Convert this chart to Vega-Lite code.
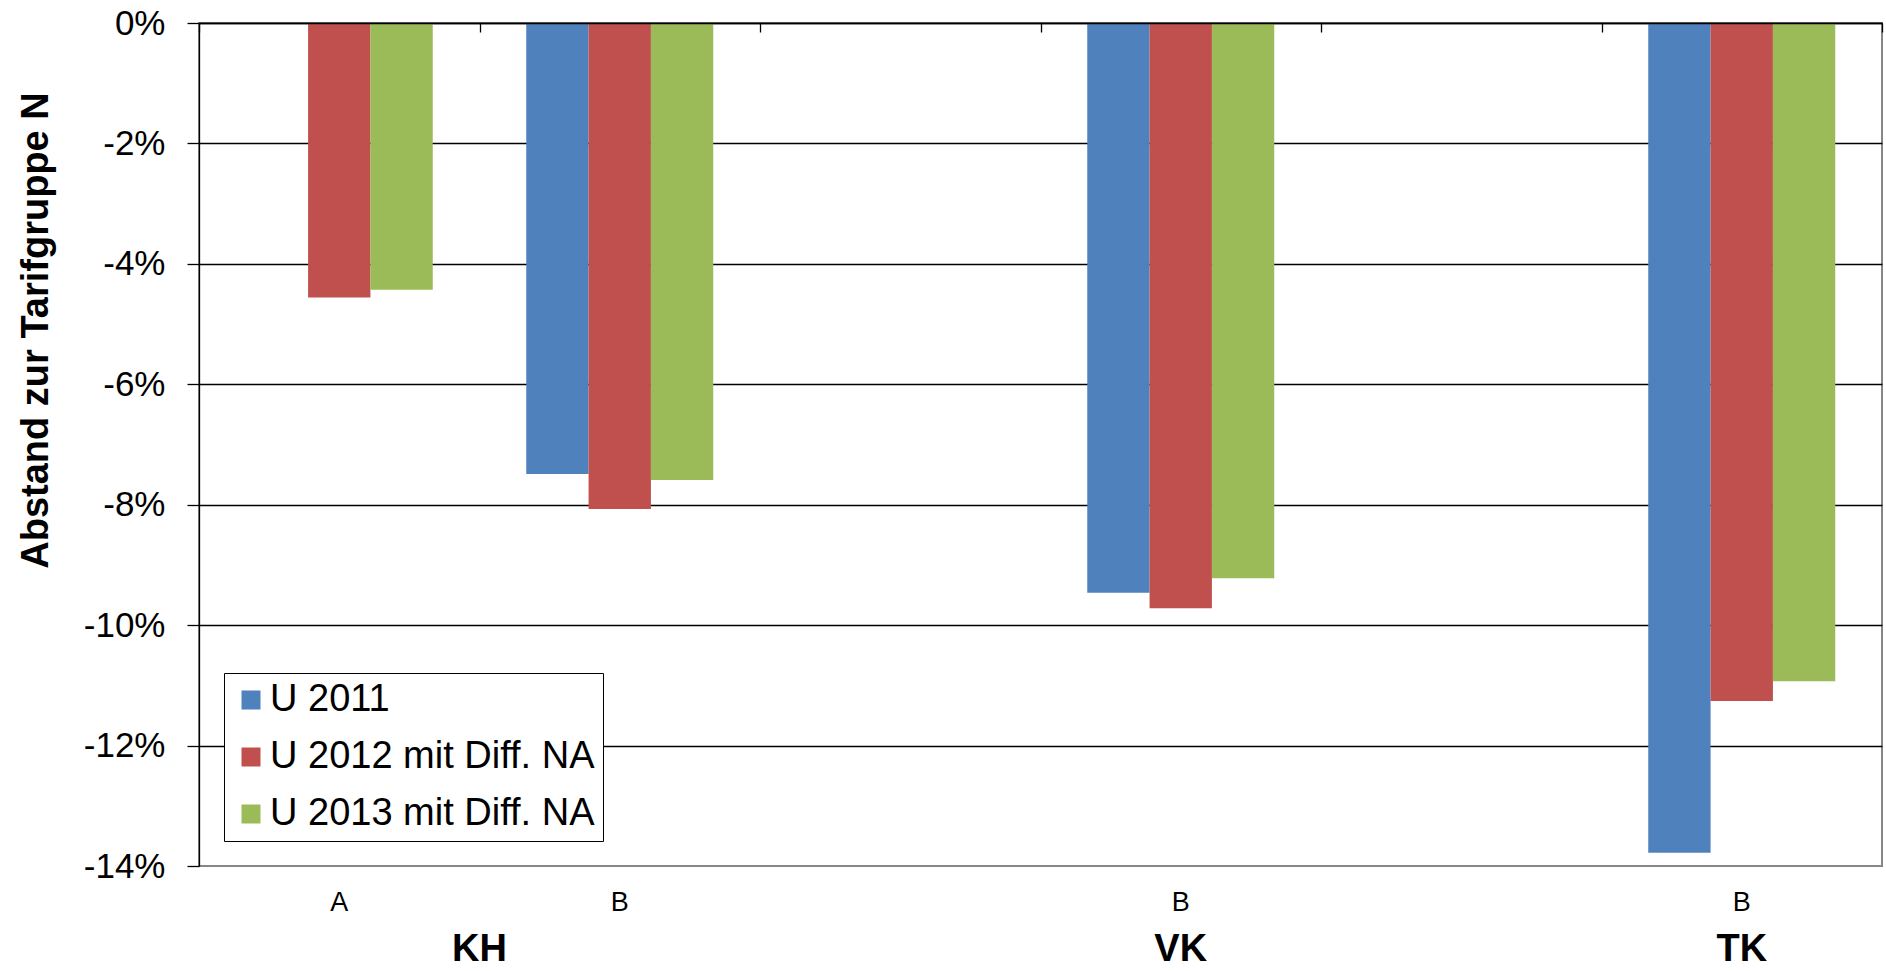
{
  "$schema": "https://vega.github.io/schema/vega-lite/v6.json",
  "autosize": "none",
  "width": 1683,
  "height": 843,
  "padding": {"left": 199, "top": 23, "right": 4, "bottom": 105},
  "background": "white",
  "config": {
    "font": "Liberation Sans",
    "view": {"stroke": "#868686", "strokeWidth": 2},
    "axis": {"labelColor": "black", "titleColor": "black"}
  },
  "data": {
    "values": [
      {"group": "KH", "slot": "KH A", "series": "U 2012 mit Diff. NA", "value": -4.56},
      {"group": "KH", "slot": "KH A", "series": "U 2013 mit Diff. NA", "value": -4.43},
      {"group": "KH", "slot": "KH B", "series": "U 2011", "value": -7.49},
      {"group": "KH", "slot": "KH B", "series": "U 2012 mit Diff. NA", "value": -8.07},
      {"group": "KH", "slot": "KH B", "series": "U 2013 mit Diff. NA", "value": -7.59},
      {"group": "VK", "slot": "VK B", "series": "U 2011", "value": -9.46},
      {"group": "VK", "slot": "VK B", "series": "U 2012 mit Diff. NA", "value": -9.72},
      {"group": "VK", "slot": "VK B", "series": "U 2013 mit Diff. NA", "value": -9.22},
      {"group": "TK", "slot": "TK B", "series": "U 2011", "value": -13.78},
      {"group": "TK", "slot": "TK B", "series": "U 2012 mit Diff. NA", "value": -11.26},
      {"group": "TK", "slot": "TK B", "series": "U 2013 mit Diff. NA", "value": -10.93}
    ]
  },
  "resolve": {"scale": {"x": "shared"}, "axis": {"x": "independent"}},
  "layer": [
    {
      "mark": {"type": "bar"},
      "encoding": {
        "x": {
          "field": "slot",
          "type": "nominal",
          "sort": null,
          "scale": {"domain": ["KH A", "KH B", "sep1", "VK B", "sep2", "TK B"], "paddingInner": 0, "paddingOuter": 0},
          "axis": {
            "orient": "bottom",
            "title": null,
            "domain": false,
            "ticks": false,
            "tickSize": 0,
            "grid": false,
            "labelAngle": 0,
            "labelFontSize": 27,
            "labelPadding": 23,
            "labelExpr": "indexof(datum.value, ' ') > 0 ? split(datum.value, ' ')[1] : ''"
          }
        },
        "xOffset": {
          "field": "series",
          "type": "nominal",
          "scale": {"domain": ["U 2011", "U 2012 mit Diff. NA", "U 2013 mit Diff. NA"], "paddingInner": 0, "paddingOuter": 0.75}
        },
        "y": {
          "field": "value",
          "type": "quantitative",
          "scale": {"domain": [-14, 0], "nice": false},
          "axis": {
            "title": "Abstand zur Tarifgruppe N",
            "titleFontSize": 38,
            "titleFontWeight": "bold",
            "titleX": -163,
            "titleY": 307,
            "titleAlign": "center",
            "titleBaseline": "middle",
            "titleAngle": 270,
            "values": [-14, -12, -10, -8, -6, -4, -2, 0],
            "labelExpr": "datum.value + '%'",
            "labelFontSize": 35,
            "labelPadding": 22,
            "domainColor": "black",
            "domainWidth": 1.3,
            "tickColor": "black",
            "tickSize": 12,
            "tickWidth": 1.3,
            "gridColor": "black",
            "gridWidth": 1.3,
            "gridOpacity": {"condition": {"test": "datum.value === -14", "value": 0}, "value": 1}
          }
        },
        "color": {
          "field": "series",
          "type": "nominal",
          "scale": {
            "domain": ["U 2011", "U 2012 mit Diff. NA", "U 2013 mit Diff. NA"],
            "range": ["#4F81BD", "#C0504D", "#9BBB59"]
          },
          "legend": {
            "title": null,
            "orient": "bottom-left",
            "offset": 25,
            "strokeColor": "black",
            "fillColor": "white",
            "padding": 8,
            "symbolOffset": 0,
            "symbolType": "square",
            "symbolSize": 361,
            "symbolStrokeWidth": 0,
            "labelFontSize": 38,
            "labelColor": "black",
            "labelOffset": 0,
            "labelLimit": 0,
            "rowPadding": 19
          }
        }
      }
    },
    {
      "mark": {"type": "rule", "opacity": 0},
      "encoding": {
        "x": {
          "field": "slot",
          "type": "nominal",
          "sort": null,
          "scale": {"domain": ["KH A", "KH B", "sep1", "VK B", "sep2", "TK B"], "paddingInner": 0, "paddingOuter": 0},
          "axis": {
            "orient": "bottom",
            "title": null,
            "domain": false,
            "ticks": false,
            "tickSize": 0,
            "grid": false,
            "labelAngle": 0,
            "values": ["KH B", "VK B", "TK B"],
            "labelExpr": "split(datum.value, ' ')[0]",
            "labelFontSize": 38,
            "labelFontWeight": "bold",
            "labelPadding": 64,
            "labelOffset": {"condition": {"test": "datum.value === 'KH B'", "value": -140.25}, "value": 0}
          }
        }
      }
    },
    {
      "mark": {"type": "rule", "opacity": 0},
      "encoding": {
        "x": {
          "field": "slot",
          "type": "nominal",
          "sort": null,
          "scale": {"domain": ["KH A", "KH B", "sep1", "VK B", "sep2", "TK B"], "paddingInner": 0, "paddingOuter": 0},
          "axis": {
            "orient": "top",
            "title": null,
            "labels": false,
            "grid": false,
            "domainColor": "black",
            "domainWidth": 1.3,
            "tickColor": "black",
            "tickWidth": 1.3,
            "tickSize": -9,
            "tickBand": "extent",
            "zindex": 1
          }
        }
      }
    }
  ]
}
